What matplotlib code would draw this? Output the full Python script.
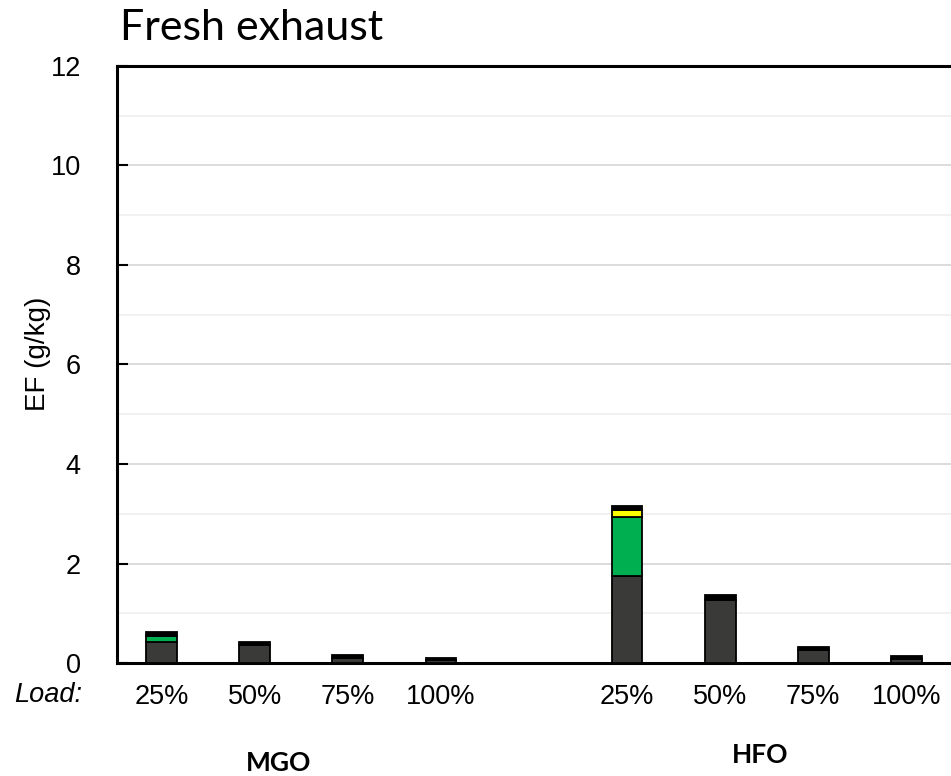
import numpy as np
import matplotlib
matplotlib.use("Agg")
import matplotlib.pyplot as plt
from matplotlib.ticker import MultipleLocator

# Emission factors (g/kg), stacked components per load
fuels = ["MGO", "HFO"]
loads = ["25%", "50%", "75%", "100%"]
dark = [0.42, 0.36, 0.11, 0.06, 1.75, 1.27, 0.26, 0.09]
green = [0.12, 0.0, 0.0, 0.0, 1.19, 0.0, 0.0, 0.0]
yellow = [0.0, 0.0, 0.0, 0.0, 0.14, 0.0, 0.0, 0.0]
black = [0.08, 0.06, 0.06, 0.05, 0.07, 0.09, 0.06, 0.05]

pos = np.array([0, 1, 2, 3, 5, 6, 7, 8])
w = 0.33

fig = plt.figure(figsize=(9.51, 7.76), dpi=100)
ax = fig.add_axes([0.123, 0.1456, 0.879, 0.7694])

bottom = np.zeros(len(pos))
for vals, col in [(dark, "#3a3a38"), (green, "#00b050"), (yellow, "#ffff00"), (black, "#000000")]:
    vals = np.array(vals)
    ax.bar(pos, vals, w, bottom=bottom, color=col, edgecolor="black", linewidth=1.3, zorder=3)
    bottom += vals

ax.set_xlim(-0.48, 8.5)
ax.set_ylim(0, 12)
ax.yaxis.set_major_locator(MultipleLocator(2))
ax.yaxis.set_minor_locator(MultipleLocator(1))
ax.grid(which="major", axis="y", color="#d9d9d9", linewidth=1.3, zorder=0)
ax.grid(which="minor", axis="y", color="#f0f0f0", linewidth=1.3, zorder=0)
ax.tick_params(axis="y", which="major", direction="in", length=8, width=1.5,
               labelsize=19.5, pad=26)
ax.tick_params(axis="y", which="minor", length=0)
ax.set_xticks(pos)
ax.set_xticklabels(loads * 2)
ax.tick_params(axis="x", length=0, labelsize=19.5, pad=15)
for lab in ax.get_xticklabels() + ax.get_yticklabels():
    lab.set_family("Liberation Sans")

for s in ["left", "top", "bottom"]:
    ax.spines[s].set_linewidth(2.2)
ax.spines["right"].set_visible(False)

fig.text(38 / 951, 1 - 354 / 776, "EF (g/kg)", rotation=90, ha="center", va="center",
         fontsize=20, family="Liberation Sans")
fig.text(48 / 951, 1 - 695 / 776, "Load:", style="italic", ha="center", va="center",
         fontsize=19.5, family="Liberation Sans")
fig.text(279 / 951, 1 - 763 / 776, fuels[0], ha="center", va="center",
         fontsize=19, fontweight="bold", family="Lato")
fig.text(760 / 951, 1 - 755 / 776, fuels[1], ha="center", va="center",
         fontsize=19, fontweight="bold", family="Lato")
fig.text(120 / 951, 1 - 40 / 776, "Fresh exhaust", ha="left", va="baseline",
         fontsize=31, family="Lato")

fig.savefig("out.png", dpi=100)
